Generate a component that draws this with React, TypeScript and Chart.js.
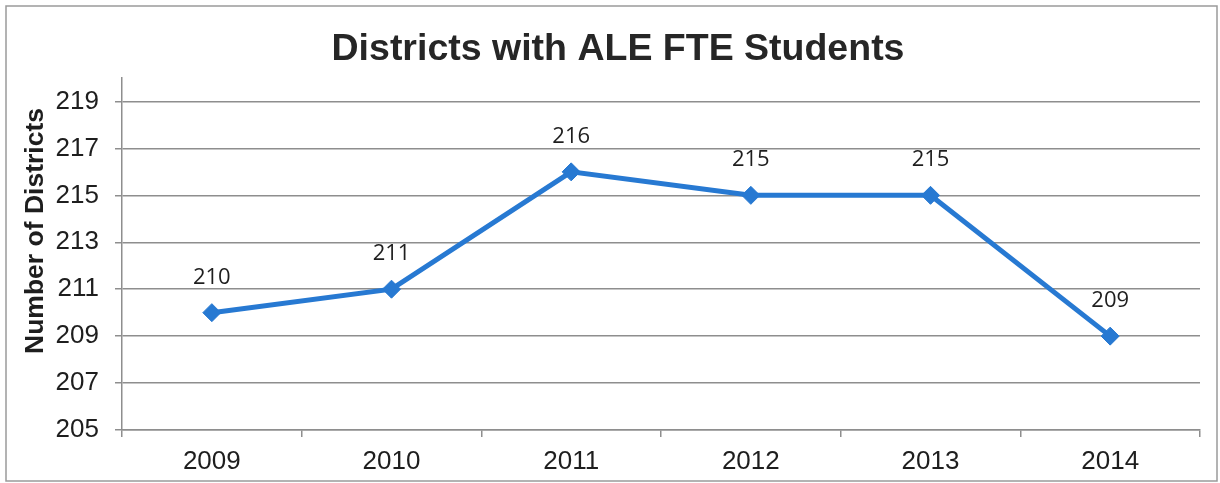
import React, { useEffect, useRef } from "react";
import { Chart, registerables } from "chart.js";

Chart.register(...registerables);

const categories = ["2009", "2010", "2011", "2012", "2013", "2014"];
const districtCounts = [210, 211, 216, 215, 215, 209];
const yTickValues = [205, 207, 209, 211, 213, 215, 217, 219];
const chartTitle = "Districts with ALE FTE Students";
const yAxisTitle = "Number of Districts";

const LINE_COLOR = "#2779d2";
const GRID_COLOR = "#8e8e8e";
const TEXT_COLOR = "#1e1e1e";

export default function App() {
  const canvasRef = useRef<HTMLCanvasElement | null>(null);

  useEffect(() => {
    document.body.style.margin = "0";
    const canvas = canvasRef.current;
    if (!canvas) return;

    const decorPlugin = {
      id: "decor",
      beforeDraw(chart: any) {
        const ctx = chart.ctx;
        ctx.save();
        ctx.fillStyle = "#ffffff";
        ctx.fillRect(0, 0, chart.width, chart.height);
        ctx.strokeStyle = "#9a9a9a";
        ctx.lineWidth = 1.5;
        ctx.strokeRect(6, 6, 1211, 475);
        ctx.restore();
      },
      afterDraw(chart: any) {
        const ctx = chart.ctx;
        ctx.save();
        ctx.fillStyle = "#262626";
        ctx.font = "bold 37.5px 'Liberation Sans', Arial, sans-serif";
        ctx.textAlign = "center";
        ctx.textBaseline = "alphabetic";
        ctx.fillText(chartTitle, 618, 60);

        ctx.translate(43, 231);
        ctx.rotate(-Math.PI / 2);
        ctx.font = "bold 26.5px 'Liberation Sans', Arial, sans-serif";
        ctx.fillStyle = TEXT_COLOR;
        ctx.fillText(yAxisTitle, 0, 0);
        ctx.restore();
      },
      afterDatasetsDraw(chart: any) {
        const ctx = chart.ctx;
        const meta = chart.getDatasetMeta(0);
        ctx.save();
        ctx.fillStyle = TEXT_COLOR;
        ctx.font = "22px 'Open Sans', sans-serif";
        ctx.textAlign = "center";
        ctx.textBaseline = "alphabetic";
        meta.data.forEach((pt: any, i: number) => {
          ctx.fillText(String(districtCounts[i]), pt.x, pt.y - 29);
        });
        ctx.restore();
      },
    };

    const chart = new Chart(canvas, {
      type: "line",
      data: {
        labels: categories,
        datasets: [
          {
            data: districtCounts,
            borderColor: LINE_COLOR,
            backgroundColor: LINE_COLOR,
            borderWidth: 5,
            pointStyle: "rectRot",
            pointRadius: 9,
            pointBackgroundColor: LINE_COLOR,
            pointBorderColor: LINE_COLOR,
            pointBorderWidth: 1,
            tension: 0,
          },
        ],
      },
      options: {
        responsive: false,
        animation: false,
        layout: { padding: { left: 0, right: 20, top: 78, bottom: 0 } },
        plugins: {
          legend: { display: false },
          title: { display: false },
          tooltip: { enabled: false },
        },
        scales: {
          x: {
            type: "category",
            offset: true,
            afterFit(scale: any) {
              scale.height = 53;
            },
            grid: {
              display: true,
              drawOnChartArea: false,
              drawTicks: true,
              tickLength: 7,
              offset: true,
              color: GRID_COLOR,
              lineWidth: 1.5,
            },
            border: { display: true, color: GRID_COLOR, width: 1.5 },
            ticks: {
              color: TEXT_COLOR,
              font: { family: "'Liberation Sans', Arial, sans-serif", size: 26 },
              padding: 9,
              maxRotation: 0,
            },
          },
          y: {
            type: "linear",
            min: 205,
            max: 220,
            afterFit(scale: any) {
              scale.width = 122;
            },
            afterBuildTicks(scale: any) {
              scale.ticks = yTickValues.map((v) => ({ value: v }));
            },
            grid: {
              display: true,
              drawOnChartArea: true,
              drawTicks: true,
              tickLength: 7,
              color: GRID_COLOR,
              lineWidth: 1.5,
            },
            border: { display: true, color: GRID_COLOR, width: 1.5 },
            ticks: {
              color: TEXT_COLOR,
              font: { family: "'Liberation Sans', Arial, sans-serif", size: 26 },
              padding: 16,
            },
          },
        },
      },
      plugins: [decorPlugin],
    });

    return () => chart.destroy();
  }, []);

  return (
    <div style={{ width: 1220, height: 483 }}>
      <canvas ref={canvasRef} width={1220} height={483} style={{ display: "block" }} />
    </div>
  );
}
